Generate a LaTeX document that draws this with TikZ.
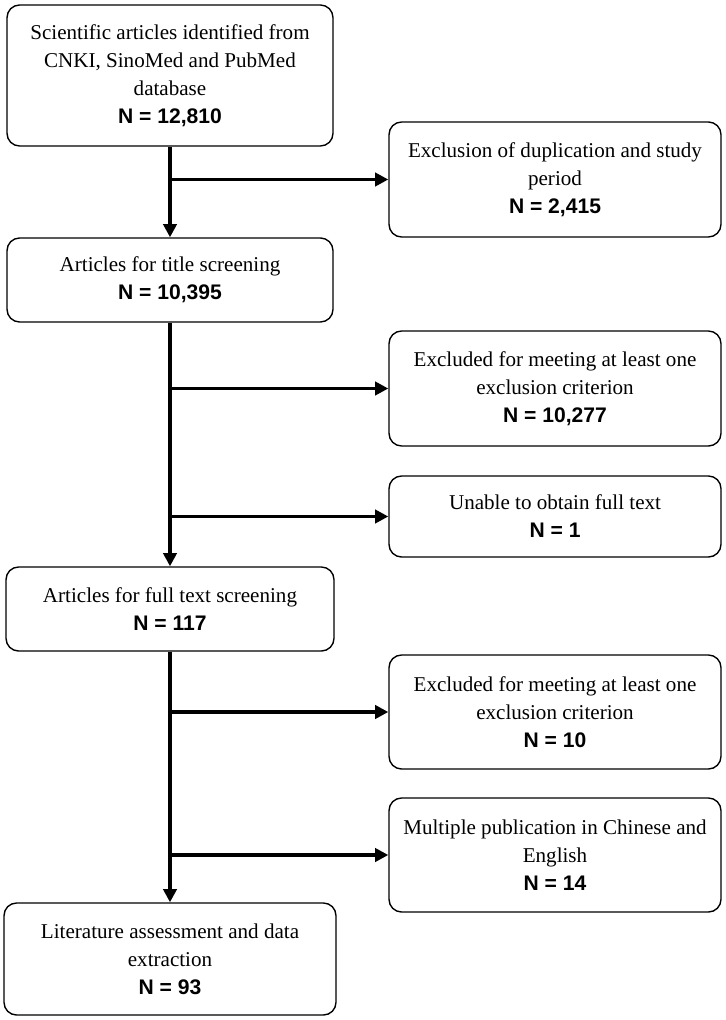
\documentclass[tikz,border=0pt]{standalone}
\usepackage{fontspec}
\setmainfont{Liberation Serif}
\setsansfont{Liberation Sans}
\usetikzlibrary{arrows.meta}

\newcommand{\countN}[1]{{\sffamily\bfseries N = #1}}

\tikzset{
  box/.style={draw, rounded corners=0.25cm, align=center, inner sep=2pt, line width=0.8pt, font=\fontsize{12}{16}\selectfont},
  flow/.style={line width=2pt, -{Triangle[length=7.5pt,width=7.5pt]}}
}

\begin{document}
\begin{tikzpicture}[x=0.02cm, y=-0.02cm]
\useasboundingbox (0,0) rectangle (726,1020);

\node[box, minimum width=6.52cm, minimum height=2.82cm] (found) at (170,75.5) {Scientific articles identified from\\CNKI, SinoMed and PubMed\\database\\\countN{12,810}};
\node[box, minimum width=6.64cm, minimum height=2.3cm] (dupl) at (555,179.5) {Exclusion of duplication and study\\period\\\countN{2,415}};

\node[box, minimum width=6.52cm, minimum height=1.68cm] (title) at (170,280) {Articles for title screening\\\countN{10,395}};
\node[box, minimum width=6.64cm, minimum height=2.3cm] (crit1) at (555,388.5) {Excluded for meeting at least one\\exclusion criterion\\\countN{10,277}};
\node[box, minimum width=6.64cm, minimum height=1.62cm] (nofull) at (555,516.5) {Unable to obtain full text\\\countN{1}};

\node[box, minimum width=6.56cm, minimum height=1.68cm] (full) at (170,609) {Articles for full text screening\\\countN{117}};
\node[box, minimum width=6.64cm, minimum height=2.28cm] (crit2) at (555,712) {Excluded for meeting at least one\\exclusion criterion\\\countN{10}};
\node[box, minimum width=6.64cm, minimum height=2.28cm] (dual) at (555,855) {Multiple publication in Chinese and\\English\\\countN{14}};

\node[box, minimum width=6.64cm, minimum height=2.24cm] (final) at (170,959) {Literature assessment and data\\extraction\\\countN{93}};

\draw[flow] (found.south) -- (title.north);
\draw[flow] (found.south |- dupl.west) -- (dupl.west);

\draw[flow] (title.south) -- (full.north);
\draw[flow] (title.south |- crit1.west) -- (crit1.west);
\draw[flow] (title.south |- nofull.west) -- (nofull.west);

\draw[flow] (full.south) -- (final.north);
\draw[flow] (full.south |- crit2.west) -- (crit2.west);
\draw[flow] (full.south |- dual.west) -- (dual.west);

\end{tikzpicture}
\end{document}
